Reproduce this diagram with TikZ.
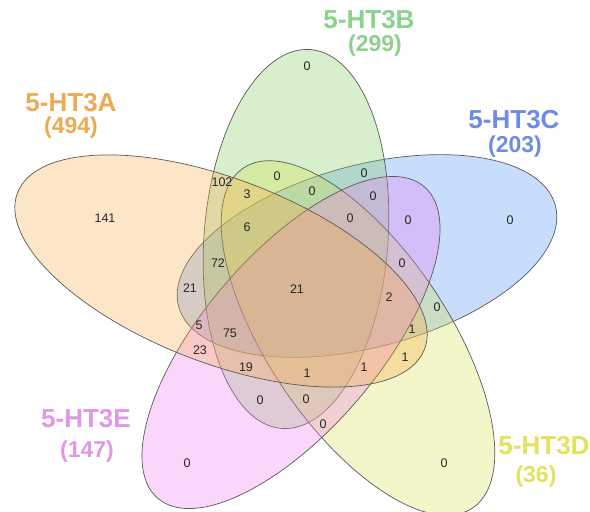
\documentclass[tikz,border=0pt]{standalone}
\usepackage{fontspec}
\setmainfont{Liberation Sans}
\definecolor{cA}{RGB}{248,168,68}
\definecolor{cB}{RGB}{125,202,88}
\definecolor{cC}{RGB}{72,138,245}
\definecolor{cD}{RGB}{212,225,72}
\definecolor{cE}{RGB}{238,122,238}
\definecolor{tA}{RGB}{236,170,82}
\definecolor{tB}{RGB}{140,210,140}
\definecolor{tC}{RGB}{110,140,230}
\definecolor{tD}{RGB}{226,226,92}
\definecolor{tE}{RGB}{225,150,230}
\begin{document}
\begin{tikzpicture}[x=1pt,y=-1pt,
  venn/.style={draw=black!65, line width=0.7pt, fill opacity=0.3},
  num/.style={font=\fontsize{12.5}{14}\selectfont, inner sep=0pt, text=black!85},
  setname/.style={font=\fontsize{26}{28}\selectfont\bfseries, inner sep=0pt},
  setcount/.style={font=\fontsize{23}{25}\selectfont\bfseries, inner sep=0pt}]
\useasboundingbox (0,0) rectangle (590,512);
% ellipses
\path[venn, fill=cC, rotate around={15:(367,256)}] (367,256) ellipse [x radius=195pt, y radius=91pt];
\path[venn, fill=cB, rotate around={85.7:(296,239)}] (296,239) ellipse [x radius=190pt, y radius=92pt];
\path[venn, fill=cD, rotate around={-56:(358,338)}] (358,338) ellipse [x radius=205pt, y radius=90pt];
\path[venn, fill=cE, rotate around={49.5:(291,342.5)}] (291,342.5) ellipse [x radius=205pt, y radius=88pt];
\path[venn, fill=cA, rotate around={-21:(221,271)}] (221,271) ellipse [x radius=218pt, y radius=92pt];
% set labels
\node[setname, text=tA] (nA) at (71,103) {5-HT3A};
\node[setcount, text=tA] (kA) at (71,128) {(494)};
\node[setname, text=tB] (nB) at (369,20) {5-HT3B};
\node[setcount, text=tB] (kB) at (375,46) {(299)};
\node[setname, text=tC] (nC) at (514,120) {5-HT3C};
\node[setcount, text=tC] (kC) at (515,147) {(203)};
\node[setname, text=tD] (nD) at (544,446) {5-HT3D};
\node[setcount, text=tD] (kD) at (536,477) {(36)};
\node[setname, text=tE] (nE) at (86,419) {5-HT3E};
\node[setcount, text=tE] (kE) at (87,452) {(147)};
% region counts
\node[num] (r1) at (307,66) {0};
\node[num] (r2) at (105,218) {141};
\node[num] (r3) at (510,220) {0};
\node[num] (r4) at (444,463) {0};
\node[num] (r5) at (187,463) {0};
\node[num] (r6) at (222,182) {102};
\node[num] (r7) at (247,194) {3};
\node[num] (r8) at (277,176) {0};
\node[num] (r9) at (312,191) {0};
\node[num] (r10) at (364,173) {0};
\node[num] (r11) at (373,196) {0};
\node[num] (r12) at (350,218) {0};
\node[num] (r13) at (408,220) {0};
\node[num] (r14) at (247,227) {6};
\node[num] (r15) at (218,263) {72};
\node[num] (r16) at (402,263) {0};
\node[num] (r17) at (190,288) {21};
\node[num] (r18) at (297,289) {21};
\node[num] (r19) at (389,297) {2};
\node[num] (r20) at (437,307) {0};
\node[num] (r21) at (199,325) {5};
\node[num] (r22) at (230,333) {75};
\node[num] (r23) at (412,329) {1};
\node[num] (r24) at (200,350) {23};
\node[num] (r25) at (405,357) {1};
\node[num] (r26) at (246,367) {19};
\node[num] (r27) at (364,367) {1};
\node[num] (r28) at (307,373) {1};
\node[num] (r29) at (260,400) {0};
\node[num] (r30) at (306,399) {0};
\node[num] (r31) at (323,424) {0};
\end{tikzpicture}
\end{document}
